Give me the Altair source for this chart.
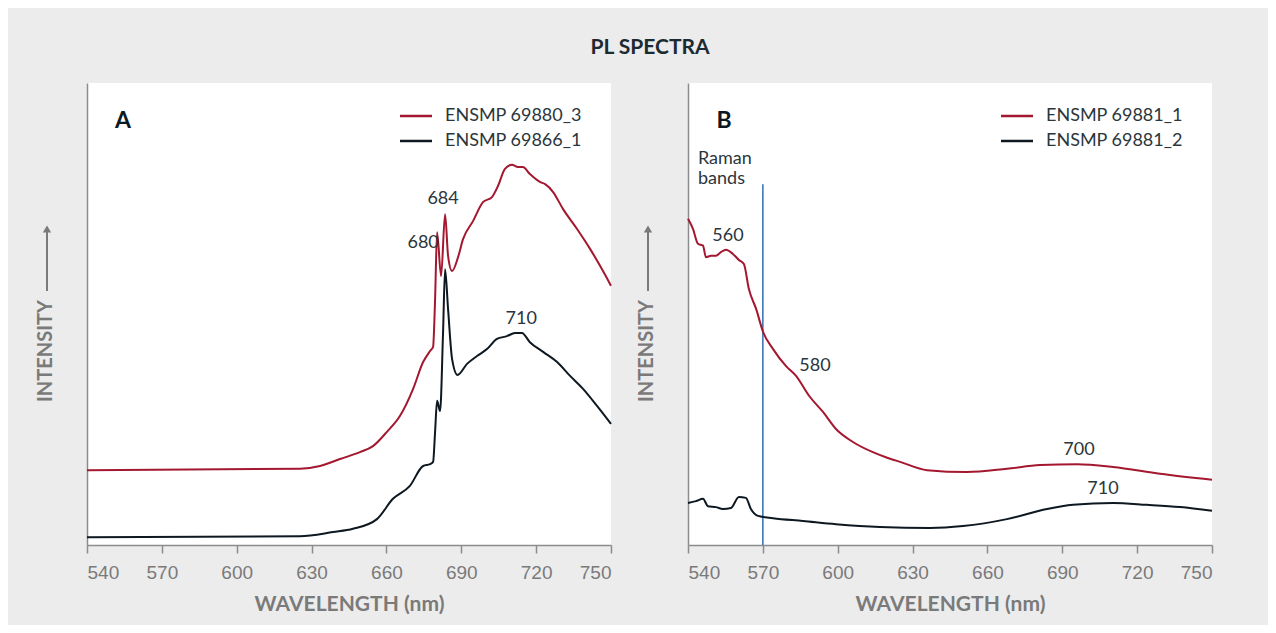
import altair as alt
import pandas as pd

# ---------------- data (wavelength nm, relative intensity 0-100) ----------------
# Panel A
a_red_w = [540, 625.4, 633.4, 641.4, 649.4, 654.6, 660.2, 665.4, 670.7, 674.7, 677.5, 678.7,
           679.5, 680.3, 681.9, 683.5, 684.7, 686.3, 688.7, 690.7, 694.7, 698.7, 702.3, 704.7,
           707.5, 710.3, 712.7, 714.7, 717.5, 721.5, 723.6, 726.8, 730.8, 736.4, 741.6, 746.8, 750]
a_red_i = [16.2, 16.5, 17.1, 18.6, 20.1, 21.4, 24.5, 27.9, 33.8, 39.6, 42.0, 42.9,
           53.2, 67.7, 58.2, 71.6, 62.6, 59.3, 62.3, 66.2, 70.1, 74.2, 75.3, 77.7,
           81.4, 82.3, 81.8, 81.8, 80.3, 78.6, 78.1, 76.4, 72.7, 68.4, 64.1, 59.3, 56.1]
a_blk_w = [540, 625.4, 638.6, 646.6, 656.2, 662.6, 669.4, 674.7, 677.5, 678.7, 679.5, 680.3,
           681.5, 682.7, 683.5, 684.7, 686.3, 688.5, 692.3, 696.3, 700.3, 704.3, 708.3, 711.5,
           714.3, 717.5, 722.8, 728.4, 733.6, 738.8, 744.4, 750]
a_blk_i = [1.7, 1.9, 2.8, 3.5, 5.6, 10.0, 12.8, 17.1, 17.5, 18.0, 24.5, 31.2,
           29.0, 46.1, 59.7, 51.1, 40.3, 36.8, 39.2, 40.9, 42.4, 44.6, 45.2, 45.9,
           45.9, 43.9, 41.8, 39.6, 36.6, 33.8, 30.1, 26.2]
# Panel B
b_red_w = [540, 542.0, 544.0, 546.0, 547.2, 549.2, 551.2, 553.2, 555.2, 558.0, 560.4, 562.4,
           564.4, 567.3, 570.1, 574.1, 579.3, 583.3, 588.5, 594.1, 599.3, 606.1, 614.1, 619.3,
           625.0, 635.8, 651.8, 667.8, 681.1, 695.9, 710.3, 729.2, 750]
b_red_i = [70.6, 68.4, 65.2, 64.8, 62.3, 62.6, 62.6, 63.4, 63.9, 63.0, 61.7, 60.8,
           55.4, 51.1, 46.1, 42.4, 38.7, 36.6, 32.3, 28.8, 25.1, 22.3, 20.1, 19.0,
           18.0, 16.2, 15.8, 16.5, 17.3, 17.5, 16.9, 15.4, 14.1]
b_blk_w = [540, 543.2, 546.0, 548.0, 551.2, 554.0, 557.2, 560.4, 563.2, 565.2, 568.1, 574.1,
           586.1, 599.3, 616.9, 636.9, 650.2, 667.8, 683.9, 694.3, 710.3, 723.9, 737.2, 750]
b_blk_i = [9.1, 9.5, 10.0, 8.4, 8.2, 7.8, 8.0, 10.4, 10.2, 7.8, 6.3, 5.8,
           5.2, 4.5, 3.9, 3.7, 4.1, 5.6, 7.8, 8.7, 9.1, 8.7, 8.2, 7.4]

names_a = ["ENSMP 69880_3", "ENSMP 69866_1"]
names_b = ["ENSMP 69881_1", "ENSMP 69881_2"]

peaks_a_text = ["680", "684", "710"]
peaks_a_w = [674.7, 682.7, 714.0]
peaks_a_i = [65.4, 74.9, 48.9]

peaks_b_text = ["560", "580", "700", "710"]
peaks_b_w = [556.0, 590.9, 696.7, 706.3]
peaks_b_i = [66.9, 38.7, 20.6, 12.1]

raman_w = [570]
raman_top = [78.1]
raman_text = ["Raman", "bands"]
raman_text_w = [544.0, 544.0]
raman_text_i = [83.5, 79.2]

x_ticks = [540, 570, 600, 630, 660, 690, 720, 750]

# ---------------- styles ----------------
RED = "#a3172f"
BLACK = "#0e1820"
BLUE = "#2f6eb5"
GREY = "#7a7a7a"
TEXT = "#2b363c"
W, H = 524, 462

x_enc = alt.X("w:Q", scale=alt.Scale(domain=[540, 750], nice=False, zero=False),
              axis=alt.Axis(values=x_ticks, title="WAVELENGTH (nm)", grid=False))
y_enc = alt.Y("i:Q", scale=alt.Scale(domain=[0, 100], nice=False, zero=False),
              axis=alt.Axis(labels=False, ticks=False, title=None, grid=False))


def one():
    return pd.DataFrame({"k": [0]})


def panel(letter, names, series, peaks, extra=None):
    rows = []
    for name, (ws, vs) in zip(names, series):
        for w, v in zip(ws, vs):
            rows.append({"s": name, "w": w, "i": v})
    df = pd.DataFrame(rows)
    layers = []
    if extra is not None:
        layers.extend(extra)
    layers.append(
        alt.Chart(df).mark_line(strokeWidth=2, interpolate="monotone").encode(
            x=x_enc, y=y_enc,
            color=alt.Color("s:N", scale=alt.Scale(domain=names, range=[RED, BLACK]), legend=None),
            order=alt.Order("w:Q"),
        )
    )
    pk = pd.DataFrame({"t": peaks[0], "w": peaks[1], "i": peaks[2]})
    layers.append(
        alt.Chart(pk).mark_text(font="Lato", fontSize=18, color=TEXT, align="center", baseline="middle")
        .encode(x=x_enc, y=y_enc, text="t:N")
    )
    # panel letter
    layers.append(
        alt.Chart(one()).mark_text(font="Lato", fontSize=23, fontWeight="bold", color=BLACK,
                                   align="center", baseline="middle")
        .encode(x=alt.value(36), y=alt.value(38), text=alt.value(letter))
    )
    # legend (manual)
    for k, (name, col) in enumerate(zip(names, [RED, BLACK])):
        yy = 33 + 25 * k
        layers.append(
            alt.Chart(one()).mark_rule(color=col, strokeWidth=2.5)
            .encode(x=alt.value(313), x2=alt.value(345), y=alt.value(yy))
        )
        layers.append(
            alt.Chart(one()).mark_text(font="Lato", fontSize=18, color=TEXT, align="left", baseline="middle")
            .encode(x=alt.value(358), y=alt.value(yy), text=alt.value(name))
        )
    # y title with arrow
    layers.append(
        alt.Chart(one()).mark_text(font="Lato", fontSize=20, fontWeight="bold", color=GREY, angle=270,
                                   align="center", baseline="middle")
        .encode(x=alt.value(-41), y=alt.value(268), text=alt.value("INTENSITY"))
    )
    layers.append(
        alt.Chart(one()).mark_rule(color=GREY, strokeWidth=2)
        .encode(x=alt.value(-40), y=alt.value(147), y2=alt.value(208))
    )
    layers.append(
        alt.Chart(one()).mark_point(shape="triangle-up", filled=True, size=70, color=GREY, opacity=1)
        .encode(x=alt.value(-40), y=alt.value(146))
    )
    return alt.layer(*layers).properties(width=W, height=H)


pA = panel("A", names_a, [(a_red_w, a_red_i), (a_blk_w, a_blk_i)],
           (peaks_a_text, peaks_a_w, peaks_a_i))

raman_df = pd.DataFrame({"w": raman_w, "i": raman_top, "i2": [0]})
raman_rule = alt.Chart(raman_df).mark_rule(color=BLUE, strokeWidth=1.5).encode(
    x=x_enc, y=y_enc, y2=alt.Y2("i2:Q"))
raman_lbl = alt.Chart(pd.DataFrame({"t": raman_text, "w": raman_text_w, "i": raman_text_i})).mark_text(
    font="Lato", fontSize=18, color=TEXT, align="left", baseline="middle").encode(
    x=x_enc, y=y_enc, text="t:N")

pB = panel("B", names_b, [(b_red_w, b_red_i), (b_blk_w, b_blk_i)],
           (peaks_b_text, peaks_b_w, peaks_b_i), extra=[raman_rule, raman_lbl])

chart = alt.hconcat(pA, pB, spacing=22).resolve_scale(color="independent").properties(
    title=alt.TitleParams("PL SPECTRA", font="Lato", fontSize=21, fontWeight="bold",
                          color="#1c2a33", anchor="middle", offset=25, dx=24),
    padding={"left": 28, "top": 29, "right": 52, "bottom": 11},
    background="#ececec",
).configure_view(fill="white", strokeWidth=0).configure_axis(
    domainColor="#8c8c8c", domainWidth=1.5, tickColor="#8c8c8c", tickWidth=1.5, tickSize=8,
    labelFont="Liberation Sans", labelFontSize=19, labelColor=GREY, labelPadding=10,
    titleFont="Lato", titleFontSize=21, titleFontWeight="bold", titleColor=GREY, titlePadding=11,
)

chart.save("out.html", embed_options={"renderer": "svg", "actions": False})
